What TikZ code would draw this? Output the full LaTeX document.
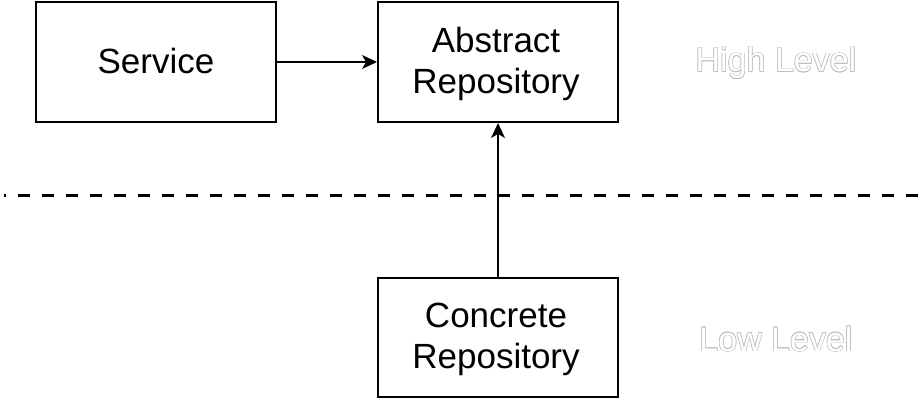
\documentclass[tikz,border=0pt]{standalone}
\usepackage{fontspec}
\setmainfont{Liberation Sans}
\definecolor{haloc}{RGB}{190,190,190}
\newcommand\halotext[1]{\leavevmode
  \rlap{\color{haloc}\raisebox{0.7pt}{#1}}%
  \rlap{\color{haloc}\raisebox{-0.7pt}{#1}}%
  \rlap{\color{haloc}\hspace*{0.7pt}#1}%
  \rlap{\color{haloc}\hspace*{-0.7pt}#1}%
  \rlap{\color{haloc}\hspace*{0.5pt}\raisebox{0.5pt}{#1}}%
  \rlap{\color{haloc}\hspace*{-0.5pt}\raisebox{0.5pt}{#1}}%
  \rlap{\color{haloc}\hspace*{0.5pt}\raisebox{-0.5pt}{#1}}%
  \rlap{\color{haloc}\hspace*{-0.5pt}\raisebox{-0.5pt}{#1}}%
  {\color{white}#1}}
\begin{document}
\begin{tikzpicture}[x=1pt,y=-1pt,
  box/.style={draw=black,line width=2pt,fill=white},
  lbl/.style={font=\fontsize{35}{41}\selectfont,align=center,inner sep=0pt},
  lvl/.style={font=\fontsize{34}{40}\selectfont,inner sep=0pt},
  conn/.style={line width=2pt},
  head/.style={fill=black}]
\useasboundingbox (0,0) rectangle (923,401);
\fill[white] (0,0) rectangle (923,401);
% dashed separator
\coordinate (dl) at (4,195);
\coordinate (dr) at (923,195);
\draw[line width=3pt,dash pattern=on 12pt off 12pt,dash phase=10pt] (dl) -- (dr);
% boxes
\draw[box] (36,2) rectangle (276,122);
\node (svc) at (156,62) {};
\draw[box] (378,2) rectangle (618,122);
\node (abs) at (498,62) {};
\draw[box] (378,278) rectangle (618,397);
\node (con) at (498,337.5) {};
\coordinate (svcE) at (276,62);
\coordinate (absW) at (377,62);
\coordinate (absWl) at (366,62);
\coordinate (absS) at (498,123);
\coordinate (absSl) at (498,134);
\coordinate (conN) at (498,278);
\node[lbl] (svct) at (156,61) {Service};
\node[lbl] (abst) at (496,64) {Abstract\\Repository};
\node[lbl] (cont) at (496,339) {Concrete\\Repository};
\draw[conn] (svcE) -- (absWl);
\fill[head] (absW) -- ++(-15,-7) -- ++(4,7) -- ++(-4,7) -- cycle;
\draw[conn] (conN) -- (absSl);
\fill[head] (absS) -- ++(-7,15) -- ++(7,-4) -- ++(7,4) -- cycle;
\node[lvl] (hl) at (776,63) {\halotext{High Level}};
\node[lvl] (ll) at (776,339) {\halotext{Low Level}};
\end{tikzpicture}
\end{document}
